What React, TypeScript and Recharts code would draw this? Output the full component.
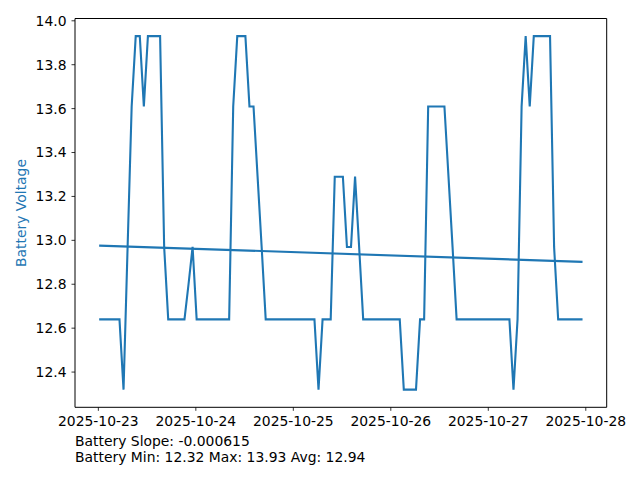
import React from 'react';
import { LineChart, Line, XAxis, YAxis, ReferenceArea, Label } from 'recharts';

const dateLabels: string[] = ['2025-10-23', '2025-10-24', '2025-10-25', '2025-10-26', '2025-10-27', '2025-10-28'];
const dateTickHours: number[] = [0, 24, 48, 72, 96, 120];
const yTicks: number[] = [12.4, 12.6, 12.8, 13.0, 13.2, 13.4, 13.6, 13.8, 14.0];

// hourly battery voltage readings starting 2025-10-23 ~00:12
const firstHour = 0.2;
const stepHours = 1;
const voltage: number[] = [
  12.64, 12.64, 12.64, 12.64, 12.64, 12.64, 12.32, 12.97, 13.61, 13.93,
  13.93, 13.61, 13.93, 13.93, 13.93, 13.93, 12.97, 12.64, 12.64, 12.64,
  12.64, 12.64, 12.80, 12.97, 12.64, 12.64, 12.64, 12.64, 12.64, 12.64,
  12.64, 12.64, 12.64, 13.61, 13.93, 13.93, 13.93, 13.61, 13.61, 13.29,
  12.97, 12.64, 12.64, 12.64, 12.64, 12.64, 12.64, 12.64, 12.64, 12.64,
  12.64, 12.64, 12.64, 12.64, 12.32, 12.64, 12.64, 12.64, 13.29, 13.29,
  13.29, 12.97, 12.97, 13.29, 12.97, 12.64, 12.64, 12.64, 12.64, 12.64,
  12.64, 12.64, 12.64, 12.64, 12.64, 12.32, 12.32, 12.32, 12.32, 12.64,
  12.64, 13.61, 13.61, 13.61, 13.61, 13.61, 13.29, 12.97, 12.64, 12.64,
  12.64, 12.64, 12.64, 12.64, 12.64, 12.64, 12.64, 12.64, 12.64, 12.64,
  12.64, 12.64, 12.32, 12.64, 13.61, 13.93, 13.61, 13.93, 13.93, 13.93,
  13.93, 13.93, 12.97, 12.64, 12.64, 12.64, 12.64, 12.64, 12.64, 12.64,
];

const trendStart = 12.976;
const trendEnd = 12.902;

const statsLines: string[] = [
  'Battery Slope: -0.000615',
  'Battery Min: 12.32 Max: 13.93 Avg: 12.94',
];

const series = voltage.map((v, i) => ({ t: firstHour + i * stepHours, v }));
const tFirst = series[0].t;
const tLast = series[series.length - 1].t;
const trend = [
  { t: tFirst, v: trendStart },
  { t: tLast, v: trendEnd },
];

const vMin = Math.min(...voltage);
const vMax = Math.max(...voltage);
const xPad = (tLast - tFirst) * 0.05;
const yPad = (vMax - vMin) * 0.05;
const xDomain: [number, number] = [tFirst - xPad, tLast + xPad];
const yDomain: [number, number] = [vMin - yPad, vMax + yPad];

const FONT = 'DejaVu Sans, sans-serif';
const BLUE = '#1f77b4';
const tickStyle = { fill: '#000', fontSize: 13.9, fontFamily: FONT };

export default function App() {
  return (
    <div style={{ position: 'absolute', left: 0, top: 0, width: 640, height: 480, background: '#fff' }}>
      <LineChart width={640} height={480} margin={{ top: 18.5, right: 33.3, bottom: 42.7, left: 0 }}>
        <XAxis
          type="number"
          dataKey="t"
          domain={xDomain}
          allowDataOverflow
          ticks={dateTickHours}
          tickFormatter={(v: number) => dateLabels[dateTickHours.indexOf(v)] ?? ''}
          tick={tickStyle}
          tickSize={3.5}
          tickMargin={5}
          tickLine={{ stroke: '#000', strokeWidth: 0.8 }}
          axisLine={false}
          height={30}
          interval={0}
        />
        <YAxis
          type="number"
          domain={yDomain}
          allowDataOverflow
          ticks={yTicks}
          tickFormatter={(v: number) => v.toFixed(1)}
          tick={tickStyle}
          tickSize={3.5}
          tickMargin={5}
          tickLine={{ stroke: '#000', strokeWidth: 0.8 }}
          axisLine={false}
          width={75}
          interval={0}
        >
          <Label
            content={() => (
              <text
                x={21}
                y={213}
                transform="rotate(-90 21 213)"
                textAnchor="middle"
                dominantBaseline="central"
                fill={BLUE}
                fontSize={13.9}
                fontFamily={FONT}
              >
                Battery Voltage
              </text>
            )}
          />
        </YAxis>
        <ReferenceArea
          x1={xDomain[0]}
          x2={xDomain[1]}
          y1={yDomain[0]}
          y2={yDomain[1]}
          fill="none"
          fillOpacity={0}
          stroke="#000"
          strokeWidth={1}
          ifOverflow="visible"
        />
        <Line
          data={series}
          dataKey="v"
          type="linear"
          stroke={BLUE}
          strokeWidth={2.1}
          dot={false}
          activeDot={false}
          isAnimationActive={false}
        />
        <Line
          data={trend}
          dataKey="v"
          type="linear"
          stroke={BLUE}
          strokeWidth={2.1}
          dot={false}
          activeDot={false}
          isAnimationActive={false}
        />
      </LineChart>
      <div
        style={{
          position: 'absolute',
          left: 75,
          top: 433,
          fontFamily: FONT,
          fontSize: 13.9,
          lineHeight: '16px',
          color: '#000',
          whiteSpace: 'pre',
        }}
      >
        {statsLines.map((s) => (
          <div key={s}>{s}</div>
        ))}
      </div>
    </div>
  );
}
